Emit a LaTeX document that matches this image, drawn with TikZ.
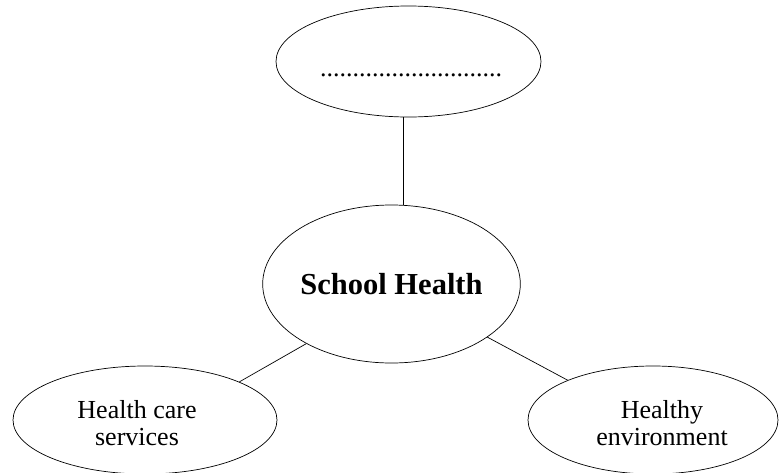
\documentclass[tikz,border=0pt]{standalone}
\usepackage{fontspec}
\setmainfont{Liberation Serif}
\usetikzlibrary{shapes.geometric}
\begin{document}
\begin{tikzpicture}[x=1pt,y=-1pt,
  bubble/.style={draw, ellipse, line width=0.7pt, inner sep=0pt},
  txt/.style={inner sep=0pt, align=center, font=\fontsize{26}{27}\selectfont},
  link/.style={line width=0.7pt}]
\useasboundingbox (0,0) rectangle (780,472);
\node[bubble, minimum width=265, minimum height=111] (top) at (408.5,61.5) {};
\node[txt, anchor=base] (dots) at (411,76) {............................};
\node[bubble, minimum width=257, minimum height=158, align=center, font=\fontsize{30.5}{32}\selectfont\bfseries] (center) at (391.5,284) {School Health};
\node[bubble, minimum width=264, minimum height=108] (left) at (145,420) {};
\node[txt] (lefttext) at (137,423) {Health care\\services};
\node[bubble, minimum width=250, minimum height=108] (right) at (653,420) {};
\node[txt] (righttext) at (662,423) {Healthy\\environment};
\coordinate (vx) at (403,0);
\draw[link] (top.south -| vx) -- (center.north -| vx);
\draw[link] (center.215.7) -- (left.22.8);
\draw[link] (center.331.5) -- (right.155.4);
\end{tikzpicture}
\end{document}
